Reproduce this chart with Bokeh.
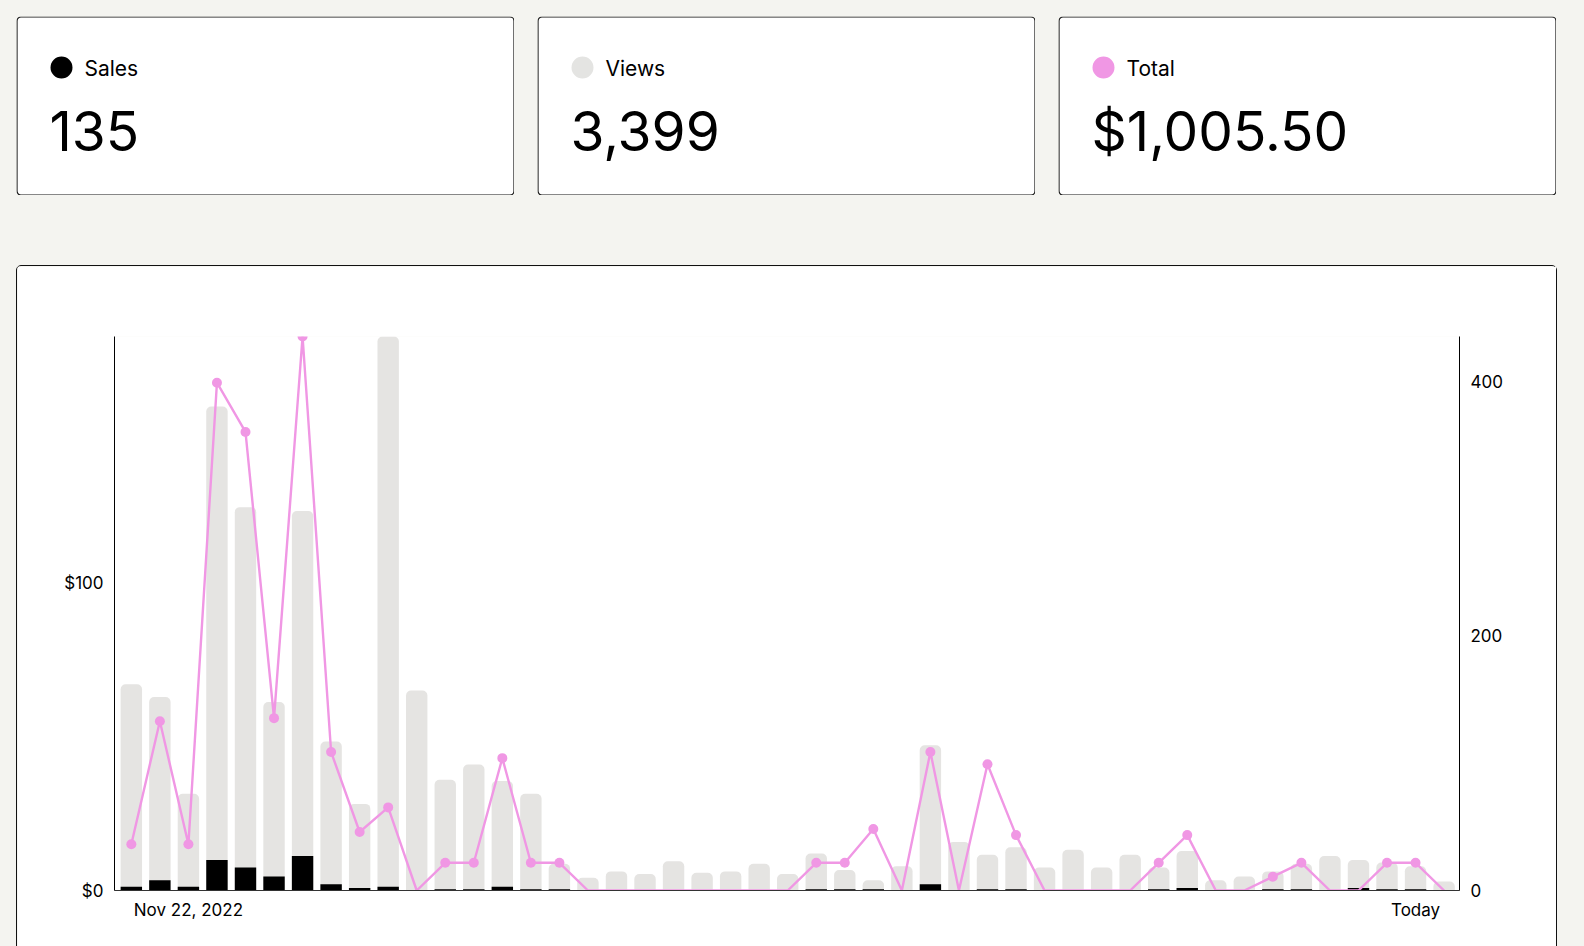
from bokeh.plotting import figure
from bokeh.models import Range1d, LinearAxis, FixedTicker, Spacer, GlobalInlineStyleSheet
from bokeh.layouts import column, row
from bokeh.embed import file_html
from bokeh.resources import INLINE
from bokeh.core.properties import value

FONT = "Inter"
BG = "#f4f4f0"
PINK = "#f097e4"
GRAY = "#e5e4e2"

# ---------------- data ----------------
card_labels = ["Sales", "Views", "Total"]
card_values = ["135", "3,399", "$1,005.50"]
card_dot_colors = ["#000000", "#e4e4e2", PINK]

days = list(range(47))
views = [162, 152, 76, 380, 301, 148, 298, 117, 68, 435,
         157, 87, 99, 86, 76, 21, 10, 15, 13, 23,
         14, 15, 21, 13, 29, 16, 8, 19, 114, 38,
         28, 34, 18, 32, 18, 28, 18, 31, 8, 11,
         15, 21, 27, 24, 22, 19, 7]
sales = [3, 8, 3, 24, 18, 11, 27, 5, 2, 3,
         0, 1, 1, 3, 1, 1, 0, 0, 0, 0,
         0, 0, 0, 0, 1, 1, 1, 0, 5, 0,
         1, 1, 0, 0, 0, 0, 1, 2, 0, 0,
         1, 1, 0, 2, 1, 1, 0]
totals = [15, 55, 15, 165, 149, 56, 180, 45, 19, 27,
          0, 9, 9, 43, 9, 9, 0, 0, 0, 0,
          0, 0, 0, 0, 9, 9, 20, 0, 45, 0,
          41, 18, 0, 0, 0, 0, 9, 18, 0, 0,
          4.5, 9, 0, 0, 9, 9, 0]

x_tick_positions = [2, 45]
x_tick_labels = ["Nov 22, 2022", "Today"]
left_ticks = [0, 100]
left_tick_labels = ["$0", "$100"]
right_ticks = [0, 200, 400]
right_tick_labels = ["0", "200", "400"]

# ---------------- cards ----------------
CARD_W, CARD_H = 498, 179


def make_card(label, val, color):
    p = figure(width=CARD_W, height=CARD_H, x_range=Range1d(0, CARD_W), y_range=Range1d(CARD_H, 0),
               toolbar_location=None, output_backend="svg", min_border=0,
               x_axis_location=None, y_axis_location=None,
               background_fill_color=BG, border_fill_color=BG, outline_line_color=None)
    p.xgrid.visible = False
    p.ygrid.visible = False
    # card body with rounded border
    p.quad(left=[0.5], right=[CARD_W - 0.5], top=[0.5], bottom=[CARD_H - 0.5],
           fill_color="white", line_color="#111111", line_width=1.2, border_radius=4)
    p.scatter(x=[45], y=[51], size=22, marker="circle", fill_color=color, line_color=None)
    p.text(x=[68], y=[52], text=[label], text_font=value(FONT), text_font_size="21px",
           text_color="#000000", text_baseline="alphabetic", text_align="left")
    p.text(x=[33], y=[114], text=[val], text_font=value(FONT), text_font_size="55px",
           text_color="#000000", text_baseline="alphabetic", text_align="left")
    return p


cards = [make_card(l, v, c) for l, v, c in zip(card_labels, card_values, card_dot_colors)]

# ---------------- chart ----------------
chart = figure(width=1539, height=700,
               x_range=Range1d(-0.59, 46.54), y_range=Range1d(0, max(totals)),
               toolbar_location=None, output_backend="svg",
               min_border_left=97, min_border_right=97, min_border_top=70, min_border_bottom=76,
               background_fill_color="white", border_fill_color="white", outline_line_color=None,
               styles={"outline": "1px solid #111111", "border-radius": "4px"})
chart.extra_y_ranges = {"views": Range1d(0, max(views))}
chart.xgrid.visible = False
chart.ygrid.visible = False

chart.vbar(x=days, top=views, bottom=0, width=0.75, y_range_name="views",
           fill_color=GRAY, line_color=None, border_radius=(5, 5, 0, 0))
chart.vbar(x=days, top=sales, bottom=0, width=0.75, y_range_name="views",
           fill_color="#000000", line_color=None)
chart.line(x=days, y=totals, line_color=PINK, line_width=2.4)
pt_x = [d for d, t in zip(days, totals) if t > 0]
pt_y = [t for t in totals if t > 0]
chart.scatter(x=pt_x, y=pt_y, size=10, marker="circle", fill_color=PINK, line_color=None)


def style_axis(ax, ticks, labels, standoff):
    ax.ticker = FixedTicker(ticks=ticks)
    ax.major_label_overrides = {t: s for t, s in zip(ticks, labels)}
    ax.axis_line_color = "#000000"
    ax.axis_line_width = 1
    ax.major_tick_line_color = None
    ax.minor_tick_line_color = None
    ax.major_tick_out = 0
    ax.major_tick_in = 0
    ax.major_label_standoff = standoff
    ax.major_label_text_font = FONT
    ax.major_label_text_font_size = "17px"
    ax.major_label_text_color = "#000000"


style_axis(chart.yaxis[0], left_ticks, left_tick_labels, 11)
style_axis(chart.xaxis[0], x_tick_positions, x_tick_labels, 9)
chart.xaxis[0].axis_line_color = "#333333"
right_axis = LinearAxis(y_range_name="views")
style_axis(right_axis, right_ticks, right_tick_labels, 11)
chart.add_layout(right_axis, "right")

# ---------------- layout ----------------
cards_row = row(Spacer(width=16), cards[0], Spacer(width=23), cards[1], Spacer(width=23), cards[2])
chart_row = row(Spacer(width=17), chart)
page = column(Spacer(height=16), cards_row, Spacer(height=71), chart_row,
              stylesheets=[GlobalInlineStyleSheet(css="html, body { background: %s; overflow: hidden; }" % BG)])

open("out.html", "w").write(file_html(page, INLINE))
